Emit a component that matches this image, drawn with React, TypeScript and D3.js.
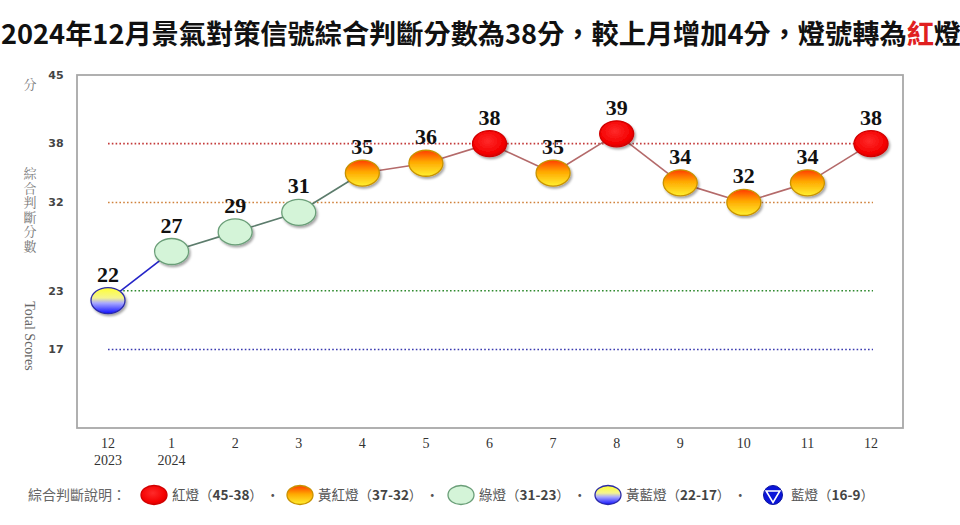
import * as d3 from "d3";

const monthLabels = ["12", "1", "2", "3", "4", "5", "6", "7", "8", "9", "10", "11", "12"];
const yearLabels = ["2023", "2024", "", "", "", "", "", "", "", "", "", "", ""];
const scores = [22, 27, 29, 31, 35, 36, 38, 35, 39, 34, 32, 34, 38];
const yTicks = [45, 38, 32, 23, 17];
const thresholds = [38, 32, 23, 17];
const thresholdColors = ["#c43a3a", "#d0823c", "#2f8a2f", "#3a3ab0"];

const legendItems = [
  { light: "red", name: "紅燈", range: "45-38" },
  { light: "yr", name: "黃紅燈", range: "37-32" },
  { light: "green", name: "綠燈", range: "31-23" },
  { light: "yb", name: "黃藍燈", range: "22-17" },
  { light: "blue", name: "藍燈", range: "16-9" },
];
const legendX = [154, 300, 461, 608, 773];

const W = 960;
const H = 525;
const frame = { left: 77, right: 903, top: 75, bottom: 428 };

const lightOf = (v: number) =>
  v >= 38 ? "red" : v >= 32 ? "yr" : v >= 23 ? "green" : v >= 17 ? "yb" : "blue";

const lineColor: Record<string, string> = {
  red: "#b46a6a",
  yr: "#b46a6a",
  green: "#5c7c6c",
  yb: "#2424c8",
  blue: "#2424c8",
};

const fillOf: Record<string, string> = {
  red: "url(#gRed)",
  yr: "url(#gYR)",
  green: "#d4f4d8",
  yb: "url(#gYB)",
  blue: "#0a14d8",
};
const strokeOf: Record<string, string> = {
  red: "#d00000",
  yr: "#c89200",
  green: "#6a9e78",
  yb: "#2a2aa8",
  blue: "#0a14a0",
};

function Marker({ light, cx, cy, rx, ry, shadow }: any) {
  if (light === "blue") {
    const r = ry;
    return (
      <g>
        <circle cx={cx} cy={cy} r={r} fill={fillOf.blue} stroke={strokeOf.blue} />
        <path
          d={`M${cx - r * 0.72},${cy - r * 0.42} L${cx + r * 0.72},${cy - r * 0.42} L${cx},${cy + r * 0.78} Z`}
          fill="none"
          stroke="#fff"
          strokeWidth={1.6}
        />
      </g>
    );
  }
  return (
    <ellipse
      cx={cx}
      cy={cy}
      rx={rx}
      ry={ry}
      fill={fillOf[light]}
      stroke={strokeOf[light]}
      strokeWidth={1.3}
      filter={shadow ? "url(#shadow)" : undefined}
    />
  );
}

export default function App() {
  const x = d3
    .scalePoint<number>()
    .domain(d3.range(scores.length))
    .range([108, 871]);
  const y = d3.scaleLinear().domain([9, 45]).range([frame.bottom, frame.top]);

  const segments = scores.slice(1).map((v, i) => ({
    x1: x(i)!,
    y1: y(scores[i]),
    x2: x(i + 1)!,
    y2: y(v),
    color: lineColor[lightOf(scores[i])],
  }));

  const serif = "'Liberation Serif', 'Times New Roman', serif";
  const cjk = "'Noto Sans CJK TC', 'Noto Sans', sans-serif";
  const cjkSerif = "'Noto Serif CJK TC', 'Noto Sans CJK TC', serif";

  return (
    <svg
      width={W}
      height={H}
      style={{ position: "fixed", left: 0, top: 0, background: "#fff" }}
    >
      <defs>
        <radialGradient id="gRed" cx="45%" cy="40%" r="60%">
          <stop offset="0%" stopColor="#ff2a2a" />
          <stop offset="80%" stopColor="#f40000" />
          <stop offset="100%" stopColor="#d80000" />
        </radialGradient>
        <linearGradient id="gYR" x1="0" y1="0" x2="0" y2="1">
          <stop offset="0%" stopColor="#ff3c00" />
          <stop offset="45%" stopColor="#ffa800" />
          <stop offset="100%" stopColor="#fff030" />
        </linearGradient>
        <linearGradient id="gYB" x1="0" y1="0" x2="0" y2="1">
          <stop offset="0%" stopColor="#ffff30" />
          <stop offset="40%" stopColor="#f4f490" />
          <stop offset="60%" stopColor="#a8a8ff" />
          <stop offset="100%" stopColor="#1010ff" />
        </linearGradient>
        <filter id="shadow" x="-30%" y="-30%" width="170%" height="170%">
          <feDropShadow dx="1.5" dy="2" stdDeviation="1.2" floodColor="#000" floodOpacity="0.35" />
        </filter>
      </defs>

      {/* title */}
      <text x={1} y={44} fontFamily={cjk} fontWeight={700} fontSize={27.2} fill="#111">
        2024年12月景氣對策信號綜合判斷分數為38分，較上月增加4分，燈號轉為
        <tspan fill="#e02020">紅</tspan>燈
      </text>

      {/* frame */}
      <rect
        x={frame.left}
        y={frame.top}
        width={frame.right - frame.left}
        height={frame.bottom - frame.top}
        fill="none"
        stroke="#a8a8a8"
        strokeWidth={1.8}
      />

      {/* y ticks */}
      {yTicks.map((t) => (
        <text
          key={t}
          x={56}
          y={y(t)}
          dy="0.35em"
          textAnchor="middle"
          fontFamily="'DejaVu Sans', sans-serif"
          fontWeight={700}
          fontSize={11}
          fill="#444"
        >
          {t}
        </text>
      ))}

      {/* y axis titles */}
      <text x={30} y={89} textAnchor="middle" fontFamily={cjkSerif} fontSize={13} fill="#777">
        分
      </text>
      <text
        x={30}
        y={167}
        style={{ writingMode: "vertical-rl" }}
        fontFamily={cjkSerif}
        fontSize={13}
        letterSpacing={1.5}
        fill="#777"
      >
        綜合判斷分數
      </text>
      <text
        transform={`translate(25, 336) rotate(90)`}
        textAnchor="middle"
        fontFamily={serif}
        fontSize={14}
        fill="#666"
      >
        Total Scores
      </text>

      {/* threshold dotted lines */}
      {thresholds.map((t, i) => (
        <line
          key={t}
          x1={108}
          x2={873}
          y1={y(t)}
          y2={y(t)}
          stroke={thresholdColors[i]}
          strokeWidth={1.6}
          strokeDasharray="1.6 2.2"
        />
      ))}

      {/* connecting line */}
      {segments.map((s, i) => (
        <line key={i} {...s} stroke={s.color} strokeWidth={1.6} />
      ))}

      {/* markers */}
      {scores.map((v, i) => (
        <Marker key={i} light={lightOf(v)} cx={x(i)} cy={y(v)} rx={17} ry={13} shadow />
      ))}

      {/* value labels */}
      {scores.map((v, i) => (
        <text
          key={i}
          x={x(i)}
          y={y(v) - 19}
          textAnchor="middle"
          fontFamily={serif}
          fontWeight={700}
          fontSize={22}
          fill="#111"
        >
          {v}
        </text>
      ))}

      {/* x axis labels */}
      {monthLabels.map((m, i) => (
        <g key={i} fontFamily={serif} fontSize={14} fill="#333" textAnchor="middle">
          <text x={x(i)} y={448}>
            {m}
          </text>
          {yearLabels[i] && (
            <text x={x(i)} y={465}>
              {yearLabels[i]}
            </text>
          )}
        </g>
      ))}

      {/* legend */}
      <text x={28} y={500} fontFamily={cjk} fontSize={14} fill="#666">
        綜合判斷說明：
      </text>
      {legendItems.map((it, i) => (
        <g key={it.name}>
          <Marker light={it.light} cx={legendX[i]} cy={495} rx={13} ry={9.5} />
          <text x={legendX[i] + 18} y={500} fontFamily={cjk} fontSize={13.5} fill="#555">
            {it.name}（
            <tspan fontWeight={700} fill="#444">
              {it.range}
            </tspan>
            ）{i < legendItems.length - 1 ? " ·" : ""}
          </text>
        </g>
      ))}
    </svg>
  );
}
